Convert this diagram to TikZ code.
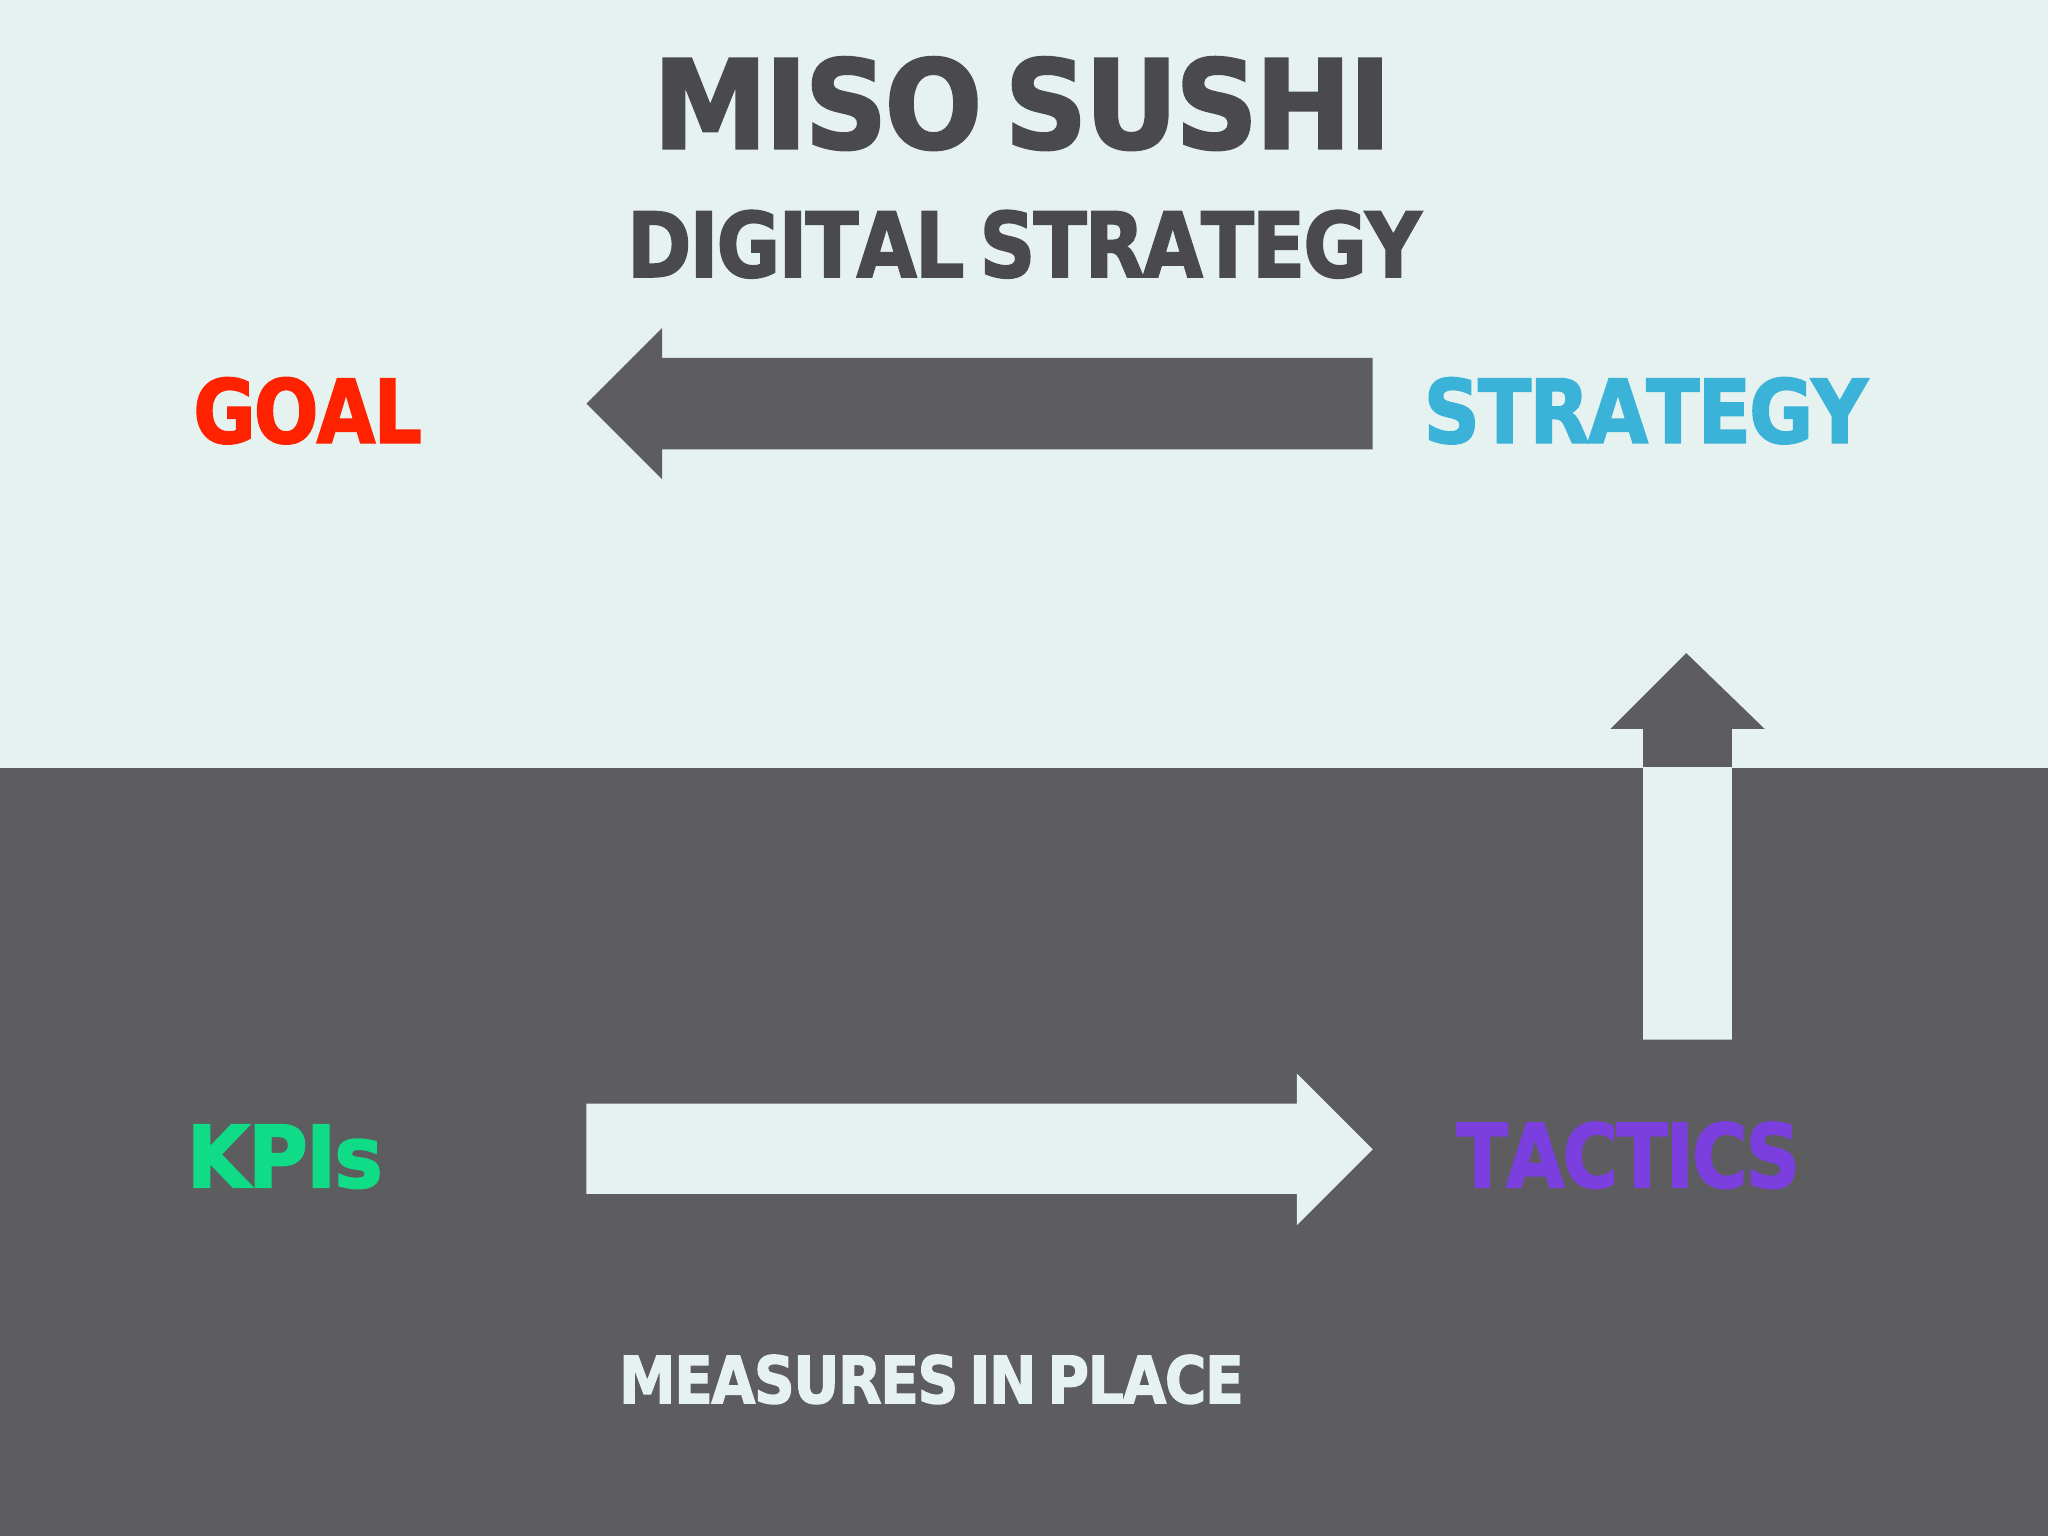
\documentclass[tikz,border=0pt]{standalone}
\usepackage{fontspec}
\usepackage{graphicx}
\newfontfamily\hv{DejaVu Sans}[Kerning=Off, LetterSpace=-2.5, WordSpace=0.6, BoldFeatures={FakeBold=2}]
\definecolor{bglight}{HTML}{E6F2F0}
\definecolor{bgdark}{HTML}{5D5D5F}
\definecolor{titlegray}{HTML}{4A4A4C}
\definecolor{goalred}{HTML}{FF2200}
\definecolor{stratblue}{HTML}{3BB3D8}
\definecolor{tactpurple}{HTML}{7B3FE0}
\definecolor{kpigreen}{HTML}{10DB86}
\newcommand\fitbox[3]{\resizebox{#1cm}{#2cm}{\hv\bfseries #3}}
\tikzset{lbl/.style={anchor=south west, inner sep=0pt, outer sep=0pt}}
\begin{document}
\begin{tikzpicture}[x=0.01cm,y=-0.01cm]
\useasboundingbox (0,0) rectangle (1568,1176);
% backgrounds
\fill[bglight] (0,0) rectangle (1568,588);
\fill[bgdark] (0,588) rectangle (1568,1176);
% texts
\node[lbl, text=titlegray] (title) at (500,115) {\fitbox{5.65}{0.70}{MISO SUSHI}};
\node[lbl, text=titlegray] (sub) at (480,213) {\fitbox{6.08}{0.51}{DIGITAL STRATEGY}};
\node[lbl, text=goalred] (goal) at (148,340) {\fitbox{1.75}{0.50}{GOAL}};
\node[lbl, text=stratblue] (strategy) at (1090,340) {\fitbox{3.40}{0.50}{STRATEGY}};
\node[lbl, text=kpigreen] (kpis) at (143,910) {\fitbox{1.50}{0.48}{KPIs}};
\node[lbl, text=tactpurple] (tactics) at (1115,910) {\fitbox{2.63}{0.50}{TACTICS}};
\node[lbl, text=bglight] (measures) at (474,1075) {\fitbox{4.78}{0.37}{MEASURES IN PLACE}};
% arrow strategy -> goal
\fill[bgdark] (1051,274) -- (507,274) -- (507,251) -- (449,309) -- (507,367) -- (507,344) -- (1051,344) -- cycle;
% arrow kpis -> tactics
\fill[bglight] (449,845) -- (993,845) -- (993,822) -- (1051,880) -- (993,938) -- (993,914) -- (449,914) -- cycle;
% arrow tactics -> strategy (two-tone)
\begin{scope}
\clip (0,0) rectangle (1568,588);
\fill[bgdark] (1258,796) -- (1258,558) -- (1233,558) -- (1291,500) -- (1351,558) -- (1326,558) -- (1326,796) -- cycle;
\end{scope}
\begin{scope}
\clip (0,588) rectangle (1568,1176);
\fill[bglight] (1258,796) -- (1258,558) -- (1233,558) -- (1291,500) -- (1351,558) -- (1326,558) -- (1326,796) -- cycle;
\end{scope}
\end{tikzpicture}
\end{document}
